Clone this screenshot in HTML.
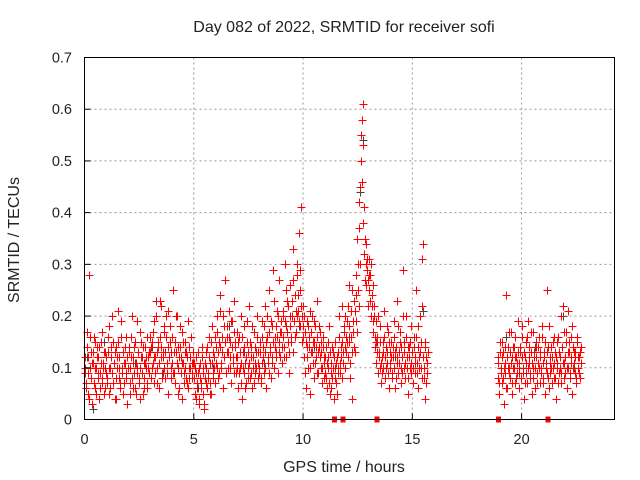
<!DOCTYPE html>
<html><head><meta charset="utf-8"><style>
body{margin:0;background:#fff;}
svg{display:block;font-family:"Liberation Sans",sans-serif;}
</style></head><body>
<svg id="chart" width="640" height="480" viewBox="0 0 640 480">
<text x="344" y="32" font-size="16" text-anchor="middle" fill="#222">Day 082 of 2022, SRMTID for receiver sofi</text>
<text x="344" y="472" font-size="16" text-anchor="middle" fill="#222">GPS time / hours</text>
<text transform="translate(19,240) rotate(-90)" font-size="16" text-anchor="middle" fill="#222">SRMTID / TECUs</text>
<g id="grid"></g>
<g id="marks" shape-rendering="crispEdges"></g>
<rect x="84.5" y="57.5" width="530" height="362" fill="none" stroke="#000" stroke-width="1"/>
<g id="ticks"></g>
</svg>
<script>
const xTicks=[0,5,10,15,20];
const yTicks=[0,0.1,0.2,0.3,0.4,0.5,0.6,0.7];
const yTickLabels=["0","0.1","0.2","0.3","0.4","0.5","0.6","0.7"];
const redStartA=0, redStepA=0.04;
const redValuesA=[
.09,.12,.07,.17,.05,.28,.1,.13,.08,.03,.11,.16,.06,.1,.14,.08,.12,.04,.09,.15,.07,.11,.13,.06,.1,
.12,.08,.16,.05,.1,.14,.09,.2,.07,.11,.13,.04,.1,.15,.08,.12,.06,.19,.1,.13,.07,.11,.16,.09,.03,
.1,.14,.07,.12,.2,.06,.11,.09,.15,.05,.1,.13,.08,.17,.04,.12,.09,.14,.06,.11,.1,.16,.07,.12,.09,
.13,.08,.15,.11,.19,.07,.12,.23,.1,.14,.06,.16,.12,.22,.09,.13,.17,.08,.2,.11,.14,.05,.12,.18,.1,
.11,.25,.09,.15,.07,.13,.2,.1,.06,.14,.12,.17,.04,.11,.09,.15,.13,.07,.19,.1,.08,.12,.16,.09,.11,
.08,.1,.04,.12,.06,.09,.03,.11,.07,.14,.05,.1,.02,.08,.13,.06,.09,.16,.07,.11,.05,.18,.09,.12,.07,
.14,.1,.2,.08,.15,.24,.11,.13,.06,.18,.12,.27,.09,.16,.13,.21,.1,.15,.07,.19,.12,.23,.14,.09,.17,
.12,.06,.16,.1,.2,.04,.13,.09,.18,.11,.07,.15,.1,.22,.08,.12,.14,.06,.1,.17,.09,.13,.2,.08,.11,
.1,.15,.07,.19,.12,.09,.22,.13,.06,.16,.11,.25,.14,.08,.18,.12,.29,.1,.16,.13,.21,.09,.15,.27,.12,
.17,.11,.2,.14,.3,.12,.18,.23,.15,.09,.26,.16,.2,.33,.13,.19,.24,.17,.28,.21,.36,.18,.25,.41,.15,
.22,.12,.17,.06,.14,.19,.1,.16,.05,.13,.2,.11,.15,.08,.18,.12,.23,.09,.14,.17,.1,.13,.07,.16,.11,
.09,.14,.06,.12,.1,.18,.05,.11,.08,.13,.04,.1,.15,.07,.12,.09,.2,.11,.14,.08,.22,.13,.17,.1,.16,
.19,.12,.26,.15,.08,.21,.04,.17,.23,.13,.28,.19,.35,.25,.42,.3,.55,.46,.61,.38,.32,.27,.34,.29,.22,
.31,.25,.28,.2,.24,.17,.22,.14,.19,.11,.16,.09,.13,.18,.07,.12,.15,.1,.21,.08,.14,.11,.17,.06,.13,
.1,.15,.08,.12,.19,.06,.14,.11,.23,.09,.13,.17,.07,.12,.29,.1,.15,.08,.2,.12,.05,.14,.1,.18,.09,
.13,.07,.16,.11,.25,.09,.14,.06,.12,.2,.1,.31,.34,.08,.15,.04,.12,.09];
const redStartA2=0.02, redStepA2=0.04;
const redValuesA2=[
.1,.06,.14,.09,.12,.04,.16,.08,.11,.13,.07,.1,.15,.05,.12,.09,.14,.06,.11,.08,.17,.1,.05,.13,.09,
.07,.13,.1,.18,.06,.12,.09,.15,.11,.04,.14,.08,.12,.21,.1,.07,.16,.09,.13,.05,.11,.14,.08,.12,.1,
.13,.05,.1,.16,.08,.12,.14,.06,.11,.19,.09,.13,.07,.1,.15,.12,.05,.11,.08,.14,.12,.06,.1,.13,.16,
.08,.14,.1,.17,.12,.09,.2,.13,.07,.15,.11,.23,.14,.08,.12,.18,.1,.13,.16,.09,.21,.12,.15,.08,.13,
.16,.09,.13,.07,.2,.11,.14,.05,.12,.18,.09,.11,.15,.07,.13,.1,.08,.12,.06,.14,.1,.16,.08,.11,.13,
.11,.05,.09,.07,.13,.04,.1,.08,.06,.12,.09,.03,.11,.07,.1,.14,.08,.12,.05,.15,.11,.08,.13,.1,.16,
.11,.17,.13,.09,.21,.14,.1,.16,.2,.12,.15,.09,.18,.13,.1,.16,.12,.19,.14,.11,.17,.09,.15,.12,.1,
.15,.09,.13,.07,.11,.16,.1,.14,.06,.12,.19,.08,.13,.11,.15,.09,.18,.12,.07,.14,.11,.1,.16,.13,.09,
.13,.08,.16,.11,.14,.18,.1,.15,.2,.12,.09,.17,.13,.19,.11,.15,.23,.14,.12,.18,.16,.2,.13,.17,.19,
.14,.21,.16,.12,.19,.25,.17,.22,.13,.2,.18,.15,.23,.27,.19,.16,.21,.3,.2,.24,.19,.29,.22,.2,.18,
.16,.2,.09,.15,.12,.18,.14,.21,.1,.17,.13,.15,.19,.11,.14,.16,.09,.13,.18,.12,.15,.1,.14,.12,.08,
.12,.08,.11,.15,.07,.13,.09,.06,.14,.1,.12,.08,.11,.05,.13,.1,.16,.09,.12,.15,.11,.18,.14,.2,.13,
.15,.22,.18,.11,.16,.25,.13,.19,.14,.21,.24,.17,.3,.22,.37,.45,.5,.58,.53,.41,.35,.3,.26,.31,.27,
.28,.23,.3,.22,.26,.19,.2,.16,.15,.13,.2,.12,.1,.15,.11,.09,.13,.16,.12,.1,.18,.13,.09,.15,.11,
.12,.09,.14,.1,.16,.13,.08,.12,.18,.11,.15,.1,.14,.09,.2,.13,.11,.16,.1,.14,.08,.12,.15,.11,.13,
.1,.14,.09,.12,.16,.11,.18,.1,.13,.15,.08,.22,.12,.1,.14,.07,.11,.13];
const redStartB=18.9, redStepB=0.04;
const redValuesB=[
.08,.12,.05,.15,.1,.07,.13,.03,.11,.09,.24,.06,.14,.1,.08,.17,.12,.05,.1,.14,.07,.12,.09,.19,
.06,.11,.13,.08,.16,.1,.04,.12,.09,.15,.07,.19,.11,.08,.13,.05,.1,.17,.12,.06,.14,.09,.11,.16,
.07,.12,.1,.18,.08,.13,.05,.11,.25,.09,.14,.06,.12,.1,.07,.15,.11,.08,.13,.04,.1,.16,.09,.12,
.2,.07,.14,.22,.11,.09,.17,.06,.13,.1,.15,.08,.12,.05,.14,.11,.09,.13,.07,.16,.1,.12,.08,.14];
const redStartB2=18.92, redStepB2=0.04;
const redValuesB2=[
.11,.07,.13,.09,.12,.15,.08,.1,.14,.06,.12,.1,.17,.09,.13,.11,.07,.14,.1,.12,.16,.08,.11,.13,
.1,.14,.08,.12,.18,.09,.13,.07,.11,.16,.1,.12,.14,.09,.17,.11,.08,.13,.1,.15,.12,.07,.14,.1,
.13,.09,.16,.11,.07,.12,.15,.1,.13,.08,.18,.11,.09,.14,.12,.1,.16,.08,.12,.11,.15,.07,.13,.1,
.09,.14,.11,.17,.08,.12,.15,.1,.21,.13,.09,.16,.11,.18,.1,.13,.12,.08,.15,.1,.12,.09,.13,.11];
const blackTimes=[0.1,0.4,0.9,1.6,2.3,3.1,3.6,4.4,5.2,5.9,6.6,7.3,8.2,9.1,9.8,10.5,11.3,12.1,12.6,12.75,13.4,14.2,14.9,15.5,19.3,19.9,20.6,21.3,21.9,22.4];
const blackValues=[0.12,0.02,0.15,0.08,0.11,0.14,0.09,0.12,0.06,0.1,0.18,0.13,0.11,0.2,0.18,0.14,0.09,0.16,0.44,0.54,0.15,0.12,0.1,0.21,0.16,0.09,0.14,0.11,0.2,0.1];
const lockTimes=[11.45,11.82,13.38,18.95,21.2];

const X0=84.5,X1=614.5,Y0=419.5,Y1=57.5,XMAX=24.25,YMAX=0.7;
const xs=t=>X0+t/XMAX*(X1-X0);
const ys=v=>Y0-v/YMAX*(Y0-Y1);
const NS="http://www.w3.org/2000/svg";
const grid=document.getElementById('grid'),marks=document.getElementById('marks'),ticks=document.getElementById('ticks');
function mk(tag,attrs,parent){const e=document.createElementNS(NS,tag);for(const k in attrs)e.setAttribute(k,attrs[k]);parent.appendChild(e);return e;}
xTicks.forEach(t=>{
  const x=xs(t);
  if(t>0){const g=mk('line',{x1:x,x2:x,y1:Y1,y2:Y0,stroke:'#999','stroke-dasharray':'2,3'},grid);
  
  }
  const tl=mk('line',{x1:x,x2:x,y1:Y0,y2:Y0-6,stroke:'#000'},ticks);
  
  
  const tx=mk('text',{x:x,y:444,'font-size':14.5,'text-anchor':'middle',fill:'#222'},ticks);
  tx.textContent=String(t);
  
  
});
yTicks.forEach((v,i)=>{
  const y=ys(v);
  if(v>0&&v<YMAX){const g=mk('line',{x1:X0,x2:X1,y1:y,y2:y,stroke:'#999','stroke-dasharray':'2,3'},grid);
  
  }
  const tl=mk('line',{x1:X0,x2:X0+6,y1:y,y2:y,stroke:'#000'},ticks);
  
  
  const tx=mk('text',{x:72,y:y+5,'font-size':14.5,'text-anchor':'end',fill:'#222'},ticks);
  tx.textContent=yTickLabels[i];
  
  
});
function plus(t,v,color,name){
  const x=Math.round(xs(t))+0.5,y=Math.round(ys(v))+0.5;
  const p=mk('path',{d:`M${x-4},${y}H${x+4}M${x},${y-4}V${y+4}`,stroke:color,'stroke-width':1,fill:'none'},marks);
  
  
}
blackTimes.forEach((t,i)=>plus(t,blackValues[i],'#444','black-point'));
redValuesA.forEach((v,i)=>plus(redStartA+i*redStepA,v,'#ff0000','red-point'));
redValuesA2.forEach((v,i)=>plus(redStartA2+i*redStepA2,v,'#ff0000','red-point'));
redValuesB.forEach((v,i)=>plus(redStartB+i*redStepB,v,'#ff0000','red-point'));
redValuesB2.forEach((v,i)=>plus(redStartB2+i*redStepB2,v,'#ff0000','red-point'));
lockTimes.forEach(t=>{
  const r=mk('rect',{x:xs(t)-2.5,y:Y0-3,width:5,height:6,fill:'#ff0000'},marks);
  
  
});
</script>
</body></html>
